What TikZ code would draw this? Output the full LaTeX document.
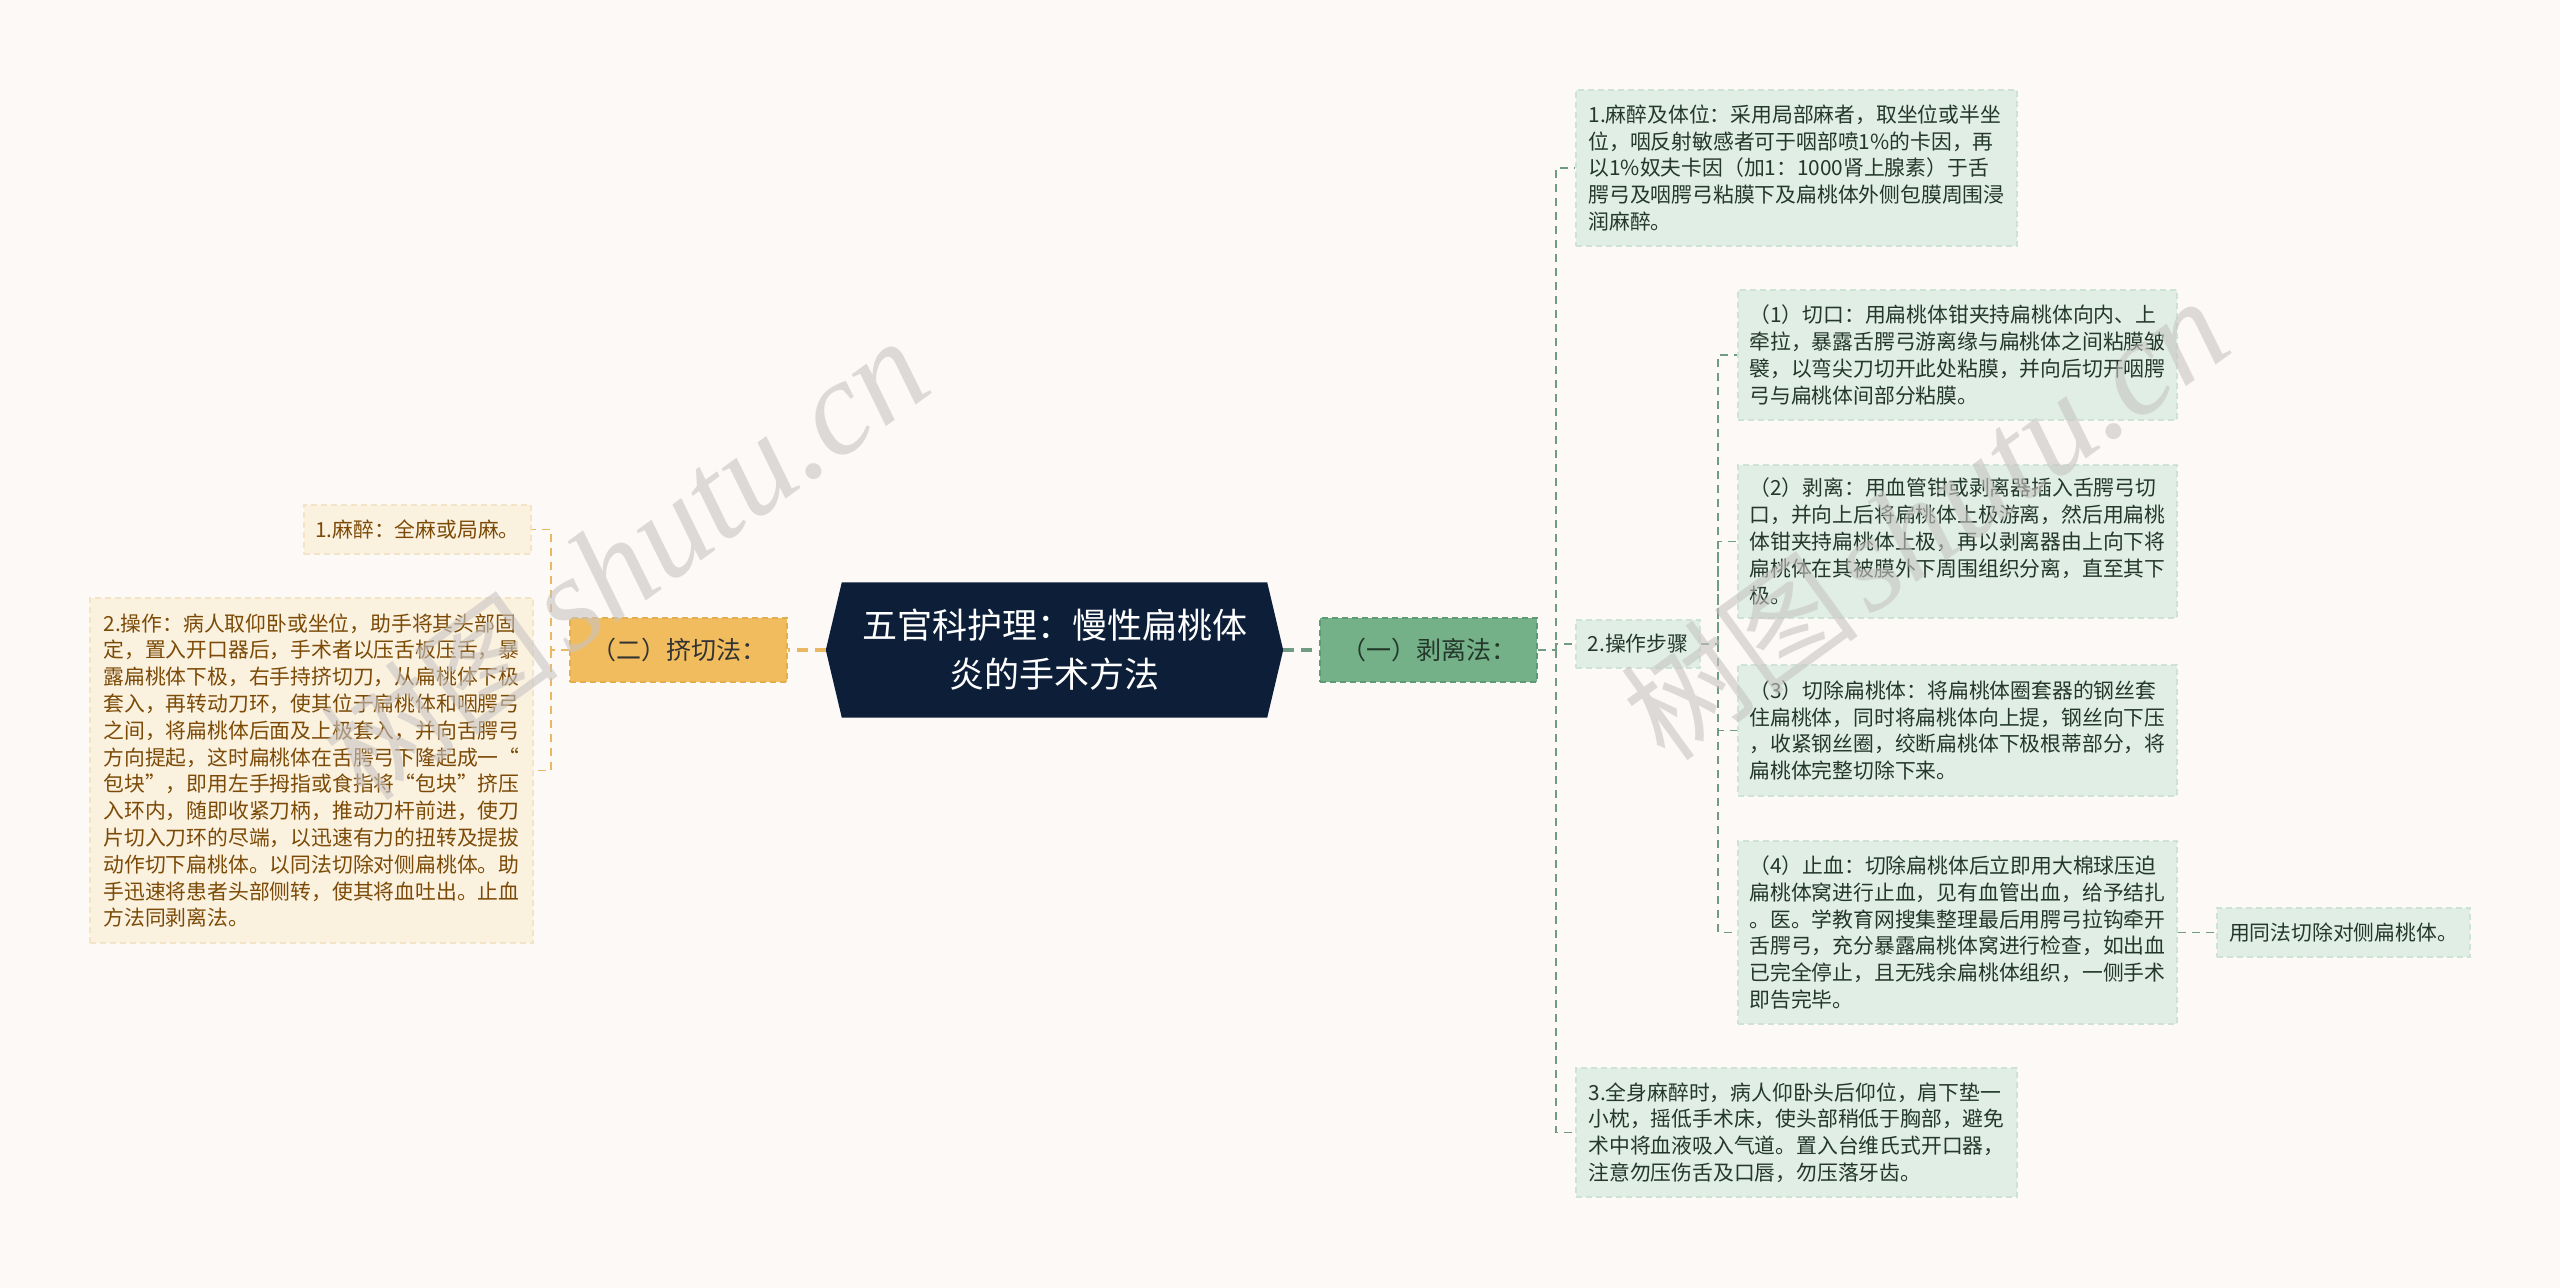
\documentclass[tikz,border=0pt]{standalone}
\usepackage{fontspec}
\setmainfont{Noto Sans CJK SC}
\newfontfamily\wmserif{Liberation Serif}
\usetikzlibrary{backgrounds}
\pgfdeclarelayer{canvasbg}
\pgfsetlayers{canvasbg,background,main}
\definecolor{bg}{HTML}{FCF9F7}
\definecolor{navy}{HTML}{0C1E38}
\definecolor{orfill}{HTML}{F0BC5E}
\definecolor{orline}{HTML}{E2AE50}
\definecolor{orconn}{HTML}{E8B862}
\definecolor{cream}{HTML}{FBF1DF}
\definecolor{creamline}{HTML}{F3E4C8}
\definecolor{brown}{HTML}{7B4A06}
\definecolor{grfill}{HTML}{74B189}
\definecolor{grline}{HTML}{5E9A74}
\definecolor{grconn}{HTML}{6F9C82}
\definecolor{mint}{HTML}{E0EEE5}
\definecolor{mintline}{HTML}{CFE2D6}
\definecolor{dk}{HTML}{24372B}
\definecolor{wm}{HTML}{C8C5C3}
\tikzset{
  leaffont/.style={font=\fontsize{20.8}{26.8}\selectfont},
  leafR/.style={leaffont, fill=mint, draw=mintline, line width=1.5pt, dash pattern=on 6pt off 4pt,
     text=dk, align=left, inner sep=0pt},
  leafL/.style={leaffont, fill=cream, draw=creamline, line width=1.5pt, dash pattern=on 6pt off 4pt,
     text=brown, align=left, inner sep=0pt},
  grbranch/.style={fill=grfill, draw=grline, line width=2pt, dash pattern=on 6pt off 4pt,
     text=dk, font=\fontsize{25}{30}\selectfont, minimum width=217pt, minimum height=64pt, inner sep=0pt},
  orbranch/.style={fill=orfill, draw=orline, line width=2pt, dash pattern=on 6pt off 4pt,
     text=black!80, font=\fontsize{25}{30}\selectfont, minimum width=217pt, minimum height=64pt, inner sep=0pt},
  rootnode/.style={text=white, font=\fontsize{35}{49}\selectfont, align=center,
     minimum width=457pt, minimum height=135pt, inner sep=0pt},
  gthick/.style={draw=grconn, line width=3.5pt, dash pattern=on 11pt off 7pt},
  othick/.style={draw=orconn, line width=3.5pt, dash pattern=on 11pt off 7pt},
  gthin/.style={draw=grconn, line width=1.8pt, dash pattern=on 8pt off 6pt},
  othin/.style={draw=orconn, line width=1.8pt, dash pattern=on 8pt off 6pt},
  wmark/.style={text=wm, opacity=0.6, rotate=36, inner sep=0pt}
}
\begin{document}
\begin{tikzpicture}[x=1pt,y=-1pt]
\begin{pgfonlayer}{canvasbg}
\fill[bg] (0,0) rectangle (2560,1288);
\end{pgfonlayer}
\useasboundingbox (0,0) rectangle (2560,1288);

% root
\node[rootnode] (root) at (1054.5,650) {五官科护理：慢性扁桃体\\炎的手术方法};
\begin{scope}[on background layer]
\fill[navy] ([xshift=16pt]root.north west) -- ([xshift=-16pt]root.north east) -- (root.east)
  -- ([xshift=-16pt]root.south east) -- ([xshift=16pt]root.south west) -- (root.west) -- cycle;
\end{scope}

% branches
\node[grbranch] (g) at (1428.5,650) {（一）剥离法：};
\node[orbranch] (o) at (678.5,650) {（二）挤切法：};

% right leaves
\node[leafR, minimum width=441pt, minimum height=156pt] (r1) at (1796.5,168)
 {1.麻醉及体位：采用局部麻者，取坐位或半坐\\
  位，咽反射敏感者可于咽部喷1\%的卡因，再\\
  以1\%奴夫卡因（加1：1000肾上腺素）于舌\\
  腭弓及咽腭弓粘膜下及扁桃体外侧包膜周围浸\\
  润麻醉。};
\node[leafR, minimum width=124pt, minimum height=48pt] (r2) at (1638,644) {2.操作步骤};
\node[leafR, minimum width=441pt, minimum height=129pt] (r3) at (1796.5,1132.5)
 {3.全身麻醉时，病人仰卧头后仰位，肩下垫一\\
  小枕，摇低手术床，使头部稍低于胸部，避免\\
  术中将血液吸入气道。置入台维氏式开口器，\\
  注意勿压伤舌及口唇，勿压落牙齿。};

\node[leafR, minimum width=439pt, minimum height=130pt] (s1) at (1957.5,355)
 {（1）切口：用扁桃体钳夹持扁桃体向内、上\\
  牵拉，暴露舌腭弓游离缘与扁桃体之间粘膜皱\\
  襞，以弯尖刀切开此处粘膜，并向后切开咽腭\\
  弓与扁桃体间部分粘膜。};
\node[leafR, minimum width=439pt, minimum height=153pt] (s2) at (1957.5,541.5)
 {（2）剥离：用血管钳或剥离器插入舌腭弓切\\
  口，并向上后将扁桃体上极游离，然后用扁桃\\
  体钳夹持扁桃体上极，再以剥离器由上向下将\\
  扁桃体在其被膜外下周围组织分离，直至其下\\
  极。};
\node[leafR, minimum width=439pt, minimum height=131pt] (s3) at (1957.5,730.5)
 {（3）切除扁桃体：将扁桃体圈套器的钢丝套\\
  住扁桃体，同时将扁桃体向上提，钢丝向下压\\
  ，收紧钢丝圈，绞断扁桃体下极根蒂部分，将\\
  扁桃体完整切除下来。};
\node[leafR, minimum width=439pt, minimum height=183pt] (s4) at (1957.5,932.5)
 {（4）止血：切除扁桃体后立即用大棉球压迫\\
  扁桃体窝进行止血，见有血管出血，给予结扎\\
  。医。学教育网搜集整理最后用腭弓拉钩牵开\\
  舌腭弓，充分暴露扁桃体窝进行检查，如出血\\
  已完全停止，且无残余扁桃体组织，一侧手术\\
  即告完毕。};
\node[leafR, minimum width=253pt, minimum height=49pt] (t1) at (2343.5,932.5) {用同法切除对侧扁桃体。};

% left leaves
\node[leafL, minimum width=227pt, minimum height=49pt] (l1) at (417.5,529.5) {1.麻醉：全麻或局麻。};
\node[leafL, minimum width=443pt, minimum height=345pt] (l2) at (311.5,770.5)
 {2.操作：病人取仰卧或坐位，助手将其头部固\\
  定，置入开口器后，手术者以压舌板压舌，暴\\
  露扁桃体下极，右手持挤切刀，从扁桃体下极\\
  套入，再转动刀环，使其位于扁桃体和咽腭弓\\
  之间，将扁桃体后面及上极套入，并向舌腭弓\\
  方向提起，这时扁桃体在舌腭弓下隆起成一“\\
  包块”，即用左手拇指或食指将“包块”挤压\\
  入环内，随即收紧刀柄，推动刀杆前进，使刀\\
  片切入刀环的尽端，以迅速有力的扭转及提拔\\
  动作切下扁桃体。以同法切除对侧扁桃体。助\\
  手迅速将患者头部侧转，使其将血吐出。止血\\
  方法同剥离法。};

% connectors
\coordinate (gv) at (1556,650);
\coordinate (sv) at (1718,644);
\coordinate (ov) at (551,650);
\begin{scope}[on background layer]
\draw[gthick] (root.east) -- (g.west);
\draw[othick] (root.west) -- (o.east);
\draw[gthin] (g.east) -- (gv) |- (r1.west);
\draw[gthin] (gv) |- (r2.west);
\draw[gthin] (gv) |- (r3.west);
\draw[gthin] (r2.east) -- (sv) |- (s1.west);
\draw[gthin] (sv) |- (s2.west);
\draw[gthin] (sv) |- (s3.west);
\draw[gthin] (sv) |- (s4.west);
\draw[gthin] (s4.east) -- (t1.west);
\draw[othin] (o.west) -- (ov) |- (l1.east);
\draw[othin] (ov) |- (l2.east);
\end{scope}

% watermarks
\node[wmark] (wm1) at (625,560) {\fontsize{120}{120}\selectfont 树图\hspace{12pt}{\wmserif\itshape\fontsize{135}{135}\selectfont shutu.cn}};
\node[wmark] (wm2) at (1925,520) {\fontsize{120}{120}\selectfont 树图\hspace{12pt}{\wmserif\itshape\fontsize{135}{135}\selectfont shutu.cn}};
\end{tikzpicture}
\end{document}
